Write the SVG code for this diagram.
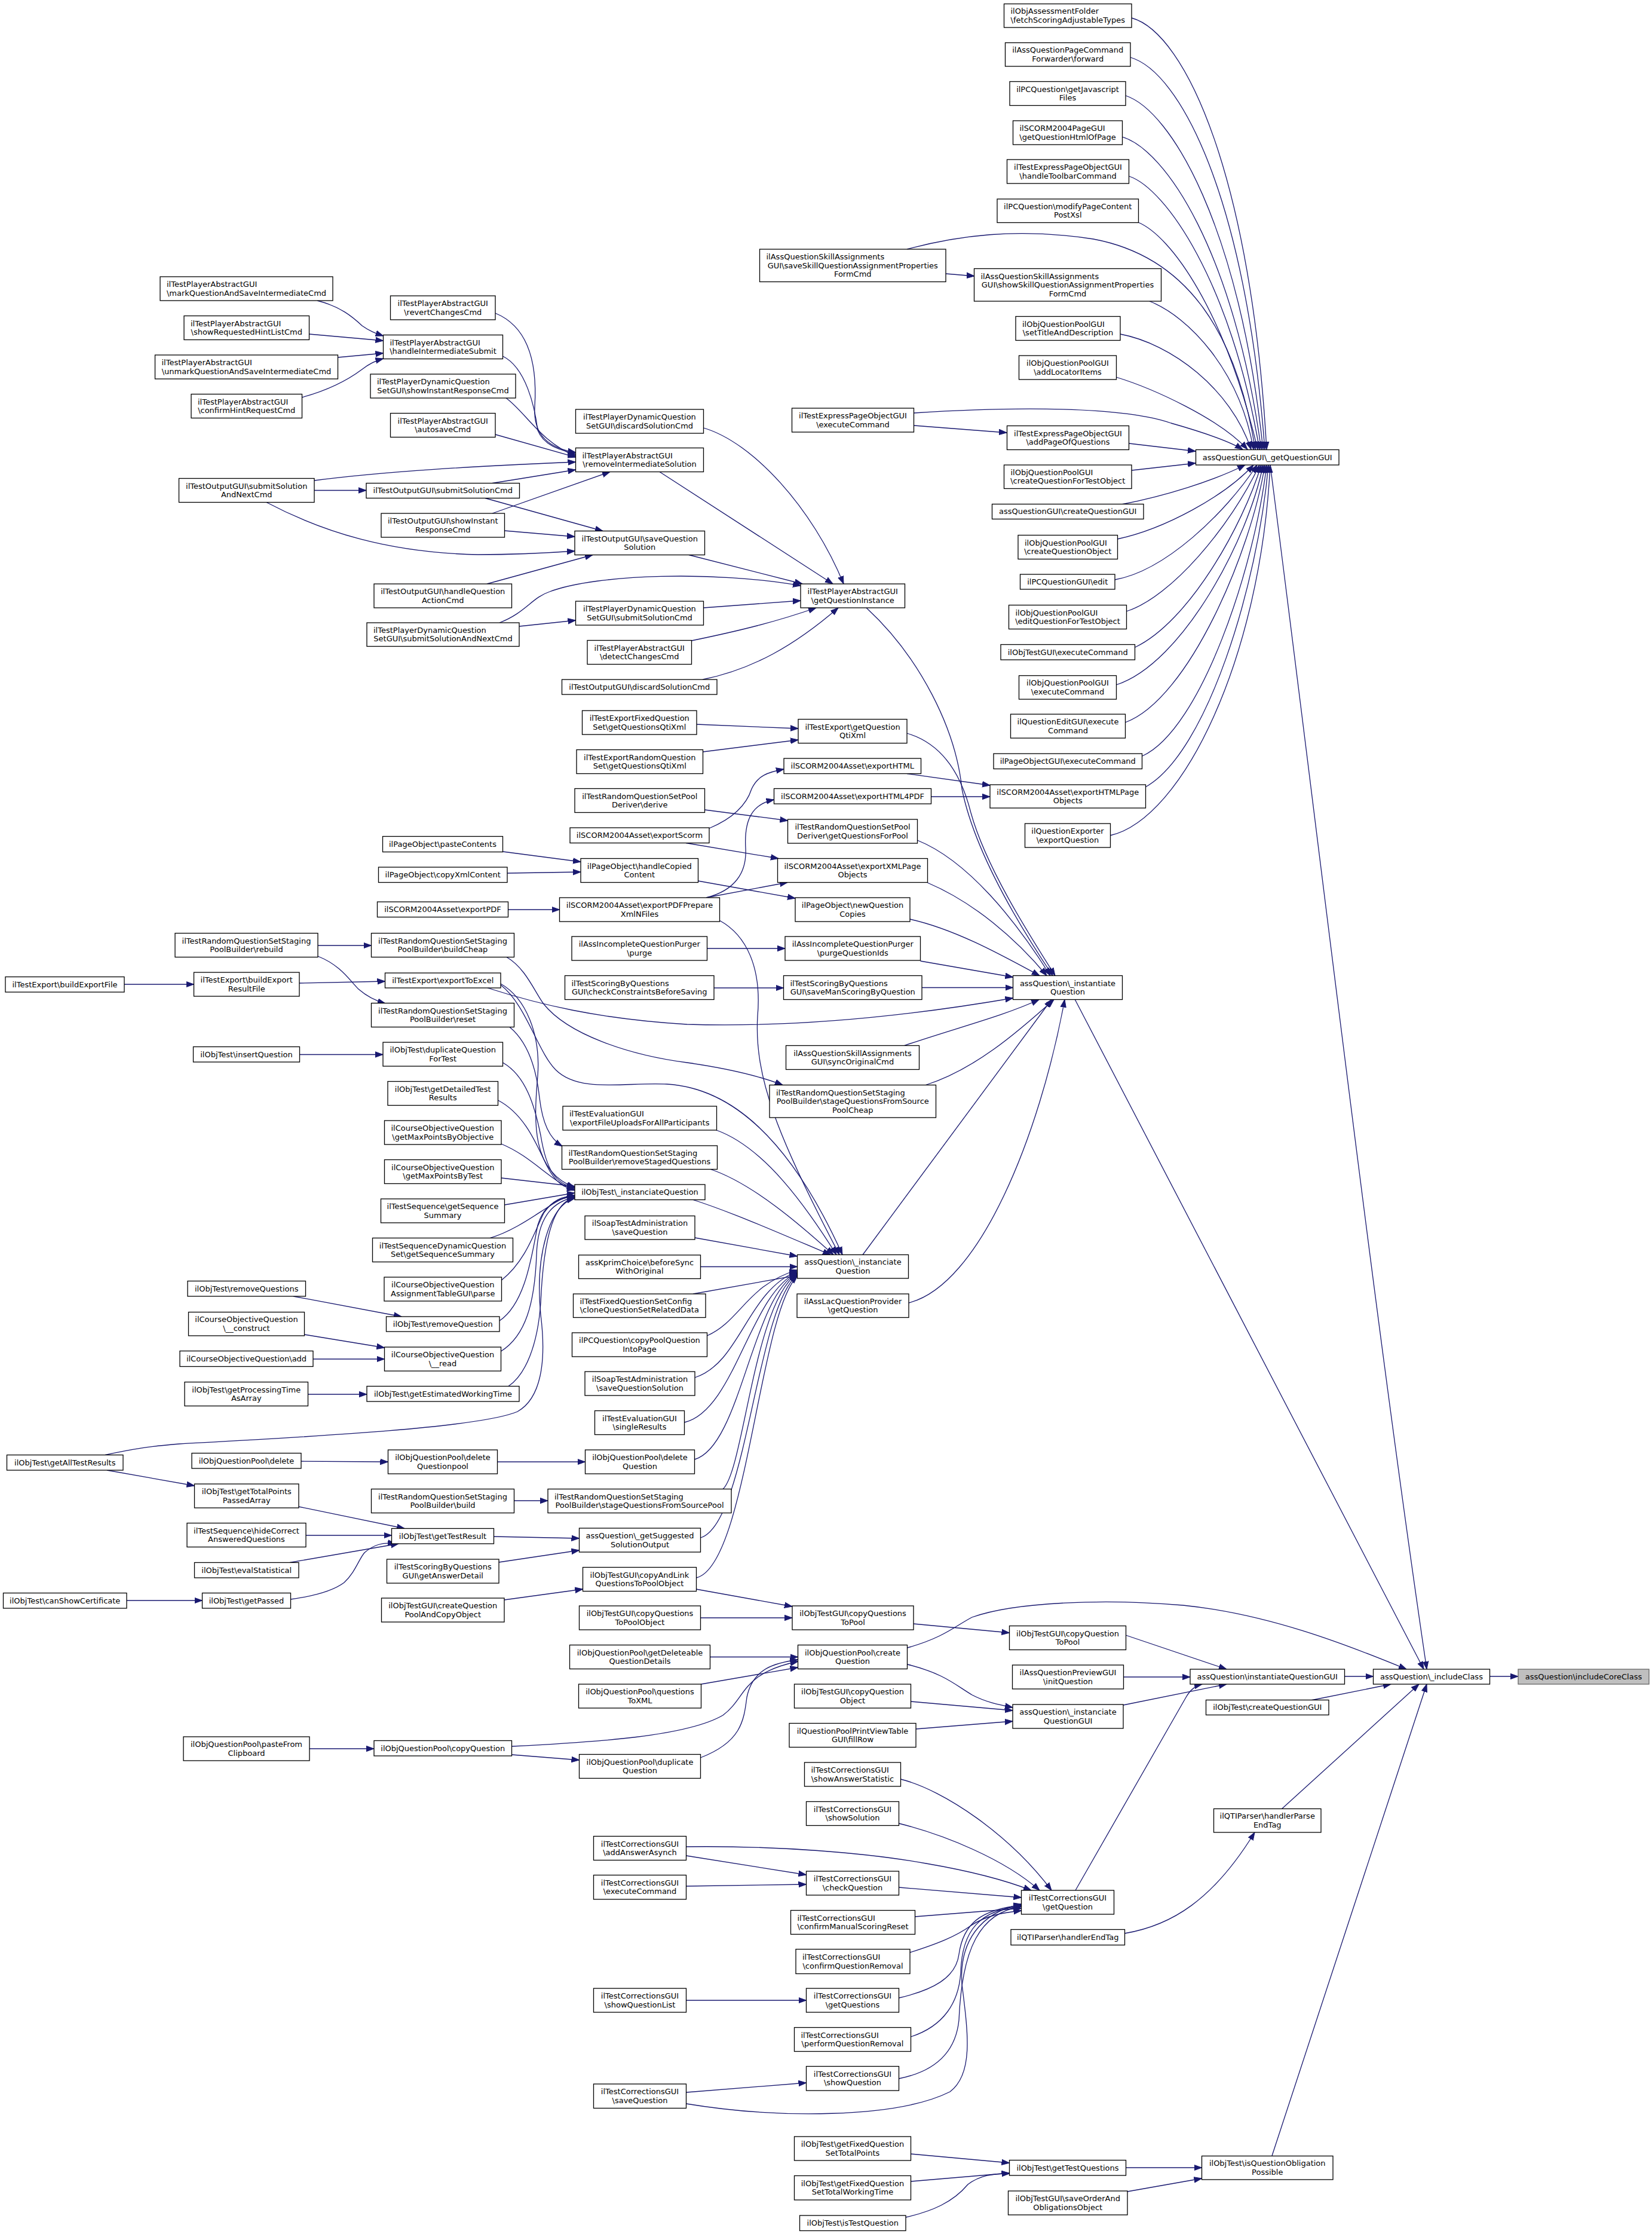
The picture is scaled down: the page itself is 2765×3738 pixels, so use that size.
<svg xmlns="http://www.w3.org/2000/svg" width="2765" height="3738" viewBox="0 0 2765 3738">
<defs>
<style>
.n rect{fill:#fff;stroke:#000;stroke-width:1.3}
.n text{font-family:"DejaVu Sans","Liberation Sans",sans-serif;font-size:13px;text-anchor:middle;fill:#000}
.n text.l{text-anchor:start}
#n123 rect{fill:#bfbfbf;stroke:#666}
.e path{fill:none;stroke:#191970;stroke-width:1.3;marker-end:url(#ah)}
</style>
<marker id="ah" markerUnits="userSpaceOnUse" markerWidth="15" markerHeight="11" refX="13" refY="5.5" orient="auto"><path d="M0,0.8 L13,5.5 L0,10.2 z" fill="#191970" stroke="#191970" stroke-width="1"/></marker>
</defs>
<rect x="0" y="0" width="2765" height="3738" fill="#fff"/>
<g id="edges" class="e">
<path d="M1894,30 C1985,55 2095,300 2120,752"/>
<path d="M1892,96 C1975,120 2085,330 2117,752"/>
<path d="M1884,160 C1960,185 2075,380 2114,752"/>
<path d="M1878,229 C1950,250 2065,420 2111,752"/>
<path d="M1890,295 C1950,315 2060,470 2108,752"/>
<path d="M1905,372 C1960,395 2050,520 2105,752"/>
<path d="M1518,417 C1600,395 1700,380 1830,400 C1990,430 2070,560 2101,752"/>
<path d="M1924,504 C1990,530 2075,620 2098,752"/>
<path d="M1875,559 C1960,575 2060,650 2094,752"/>
<path d="M1868,631 C1930,650 2040,700 2088,752"/>
<path d="M1530,691 C1700,680 1880,680 1960,708 C2020,725 2060,740 2080,752"/>
<path d="M1530,712 L1685,724"/>
<path d="M1890,742 L2001,755"/>
<path d="M1894,787 L2001,775"/>
<path d="M1877,844 C1950,830 2030,805 2084,778"/>
<path d="M1870,902 C1950,885 2050,830 2098,778"/>
<path d="M1866,970 C1950,955 2050,860 2104,778"/>
<path d="M1885,1023 C1960,1000 2060,880 2108,778"/>
<path d="M1900,1083 C1990,1040 2080,880 2111,778"/>
<path d="M1868,1146 C1980,1110 2090,900 2114,778"/>
<path d="M1883,1209 C1990,1170 2095,920 2117,778"/>
<path d="M1912,1265 C2010,1220 2100,950 2120,778"/>
<path d="M1917,1317 C2020,1260 2105,980 2123,778"/>
<path d="M1858,1398 C1980,1370 2110,1100 2126,778"/>
<path d="M1583,458 L1631,462"/>
<path d="M2126,778 C2200,1350 2300,2200 2388,2793"/>
<path d="M1799,1672 L2383,2793"/>
<path d="M1519,2757 C1580,2740 1600,2720 1627,2706 C1700,2680 1850,2675 1980,2686 C2120,2700 2250,2750 2354,2793"/>
<path d="M2250.5,2805 L2298.5,2805"/>
<path d="M2194,2845 L2328,2818"/>
<path d="M2145,3027 L2375,2818"/>
<path d="M2129,3607 L2388,2818"/>
<path d="M2493.5,2805 L2541,2805"/>
<path d="M1884,2736 L2053,2793"/>
<path d="M1880.5,2806 L1992,2806"/>
<path d="M1880,2853 L2053,2818"/>
<path d="M1800,3163 L1985,2840 Q1995,2822 2012,2818"/>
<path d="M1529,2717 L1689.5,2732"/>
<path d="M1165,2659 L1326,2688"/>
<path d="M1172.5,2707 L1326,2707"/>
<path d="M1519,2785 C1580,2800 1600,2820 1627,2836 C1650,2848 1670,2852 1695,2857"/>
<path d="M1524.5,2847 L1695,2862"/>
<path d="M1533,2893 L1695,2880"/>
<path d="M1188.5,2772.5 L1335.5,2772.5"/>
<path d="M1173.5,2818 L1335.5,2790"/>
<path d="M857,2922 C1000,2915 1150,2905 1210,2870 C1250,2840 1240,2800 1335.5,2780"/>
<path d="M1172.5,2941 C1240,2915 1245,2880 1250,2840 C1260,2790 1300,2782 1335.5,2777"/>
<path d="M856.5,2936 L969.5,2945"/>
<path d="M518,2926 L626,2926"/>
<path d="M1160,2007.5 C1230,2030 1320,2070 1390,2099.5"/>
<path d="M1199,1891 C1280,1920 1350,2020 1400,2099.5"/>
<path d="M1188,1956 C1260,1980 1340,2050 1395,2099.5"/>
<path d="M1204,1540 C1250,1565 1275,1620 1268,1700 C1262,1800 1300,1900 1405,2099.5"/>
<path d="M838,1648 C880,1680 900,1760 930,1790 C970,1830 1050,1810 1116,1814 C1220,1820 1320,1900 1410,2099.5"/>
<path d="M1163,2071 L1334.5,2102"/>
<path d="M1172.5,2119.5 L1334.5,2119.5"/>
<path d="M1160,2165 L1334.5,2134"/>
<path d="M1183.5,2235 C1240,2210 1250,2150 1334.5,2125"/>
<path d="M1163,2305 C1240,2280 1250,2160 1334.5,2127"/>
<path d="M1145.5,2380 C1230,2360 1255,2165 1334.5,2129"/>
<path d="M1162.5,2442 C1240,2420 1258,2170 1334.5,2130"/>
<path d="M1210,2491.5 C1245,2460 1262,2180 1334.5,2131"/>
<path d="M1172.5,2573 C1250,2550 1265,2190 1334.5,2133"/>
<path d="M1165.5,2640 C1250,2620 1270,2200 1334.5,2135"/>
<path d="M1450,1017 C1540,1100 1600,1220 1610,1320 C1630,1420 1700,1540 1762,1632.5"/>
<path d="M1518,1227 C1580,1245 1610,1300 1625,1360 C1650,1450 1720,1560 1766,1632.5"/>
<path d="M1535.5,1406 C1620,1440 1700,1540 1758,1632.5"/>
<path d="M1552.5,1477 C1630,1510 1700,1570 1752,1632.5"/>
<path d="M1523,1538 C1600,1555 1680,1600 1740,1632.5"/>
<path d="M1540.5,1608 L1695.5,1635"/>
<path d="M1543,1652.5 L1695.5,1652.5"/>
<path d="M816,1653 C900,1680 1000,1705 1150,1714 C1350,1720 1550,1695 1695.5,1670"/>
<path d="M1512,1750 C1600,1720 1680,1700 1739,1672.5"/>
<path d="M1548,1816 C1630,1790 1700,1730 1764,1672.5"/>
<path d="M1444,2099.5 L1760,1672.5"/>
<path d="M1521,2180 C1640,2150 1740,1900 1782,1672.5"/>
<path d="M1177.5,716 C1260,740 1360,850 1412,977"/>
<path d="M1104,789.5 L1394,977"/>
<path d="M1153,928.5 L1343,977"/>
<path d="M836,1042 C880,1025 890,1000 920,990 C1000,960 1200,955 1340,980"/>
<path d="M1177.5,1017 L1340,1005"/>
<path d="M1157.5,1072 C1240,1055 1300,1040 1366,1017"/>
<path d="M1176,1137 C1260,1120 1330,1080 1403,1017"/>
<path d="M829,524 C880,545 900,600 895,680 C892,730 920,750 963.5,757"/>
<path d="M841.5,596 C880,615 895,680 900,720 C910,745 935,752 963.5,760"/>
<path d="M847,666 C880,690 905,740 963.5,763"/>
<path d="M829,727 L963.5,765"/>
<path d="M526,804 C650,788 800,780 963.5,773"/>
<path d="M824,808.5 L963.5,786"/>
<path d="M824,859 L1021,789.5"/>
<path d="M812,833.5 L1009,888.5"/>
<path d="M844.5,888 L962,898"/>
<path d="M446,840.5 C540,890 650,925 800,928 C870,928 920,925 962,922"/>
<path d="M815,977 L992,928.5"/>
<path d="M531,503 C570,513 590,530 606,545 C620,555 630,558 641.5,562"/>
<path d="M517.5,559 L641.5,570"/>
<path d="M565.5,598 L641.5,591"/>
<path d="M505,665 C560,650 590,630 606,618 C620,607 630,603 641.5,600"/>
<path d="M526,820.5 L613,820.5"/>
<path d="M869,1048 L963.5,1038"/>
<path d="M1166,1212 L1336,1219"/>
<path d="M1176.5,1258 L1336,1238"/>
<path d="M1187,1386 C1230,1368 1250,1345 1258,1320 C1268,1298 1285,1292 1312,1287"/>
<path d="M1182,1502 C1230,1490 1250,1460 1248,1420 C1245,1370 1260,1345 1295.5,1338"/>
<path d="M1518,1294.5 L1657,1314"/>
<path d="M1558.5,1333 L1657,1333"/>
<path d="M1179.5,1355 L1318.5,1373"/>
<path d="M1148,1410.5 L1303,1436.5"/>
<path d="M1182,1502 L1318,1476.5"/>
<path d="M842,1425 L972,1442"/>
<path d="M849,1461 L972,1459"/>
<path d="M1168.5,1474 L1331,1503"/>
<path d="M851,1522 L936.5,1522"/>
<path d="M1183.5,1587 L1314,1587"/>
<path d="M1195,1653 L1311.5,1653"/>
<path d="M532,1582 L621.5,1582"/>
<path d="M532,1600 C570,1615 585,1640 600,1655 C615,1668 630,1675 645,1679"/>
<path d="M208,1647 L324.5,1647"/>
<path d="M501,1645 L644.5,1642"/>
<path d="M848,1601.5 C880,1620 895,1660 910,1680 C950,1730 1050,1765 1150,1778 C1220,1788 1270,1800 1310,1815.5"/>
<path d="M853,1718.5 C885,1745 898,1790 903,1837 C908,1880 920,1905 941,1918"/>
<path d="M838,1646 C880,1670 905,1730 900,1800 C893,1880 890,1960 962,1987"/>
<path d="M841.5,1778 C880,1800 895,1850 905,1900 C915,1960 930,1980 962,1988"/>
<path d="M833.5,1841 C880,1865 900,1920 915,1950 C930,1980 945,1988 962,1990"/>
<path d="M839,1914 C890,1935 920,1975 962,1992"/>
<path d="M839,1971 L962,1985"/>
<path d="M844.5,2016 L962,1996"/>
<path d="M820,2071.5 C860,2060 900,2030 920,2018 C935,2008 945,2003 962,2000"/>
<path d="M839.5,2142 C880,2110 895,2060 910,2030 C925,2008 940,2002 962,2001"/>
<path d="M836,2210 C880,2180 890,2100 900,2050 C910,2015 935,2004 962,2002"/>
<path d="M838.5,2261 C880,2235 895,2180 898,2100 C900,2030 930,2010 962,2003"/>
<path d="M851,2319.5 C880,2300 900,2250 905,2180 C910,2060 930,2010 962,2004"/>
<path d="M176,2434.5 C220,2425 250,2420 300,2416 C500,2405 800,2390 866,2362 C905,2340 915,2280 905,2200 C895,2100 920,2015 962,2005"/>
<path d="M501.5,1764.5 L641,1764.5"/>
<path d="M491,2169 L672,2203"/>
<path d="M509.5,2233 L643.5,2255"/>
<path d="M524,2274 L643.5,2274"/>
<path d="M515.5,2333 L614,2333"/>
<path d="M179,2460 L325.5,2486"/>
<path d="M504,2445 L649.5,2446"/>
<path d="M832.5,2446 L979.5,2446"/>
<path d="M860.5,2511 L917,2511"/>
<path d="M500,2521 L677,2557.5"/>
<path d="M512,2569 L655.5,2569"/>
<path d="M485,2614.5 L667,2583"/>
<path d="M486.5,2676 C530,2670 560,2660 576,2648 C595,2630 600,2610 610,2598 C625,2585 640,2580 662,2583"/>
<path d="M212,2678 L338.5,2678"/>
<path d="M826.5,2571 L969.5,2574"/>
<path d="M835,2614 L969.5,2594"/>
<path d="M844,2677 L975.5,2659"/>
<path d="M1507.5,2977 C1580,2995 1690,3070 1760,3163"/>
<path d="M1504.5,3051 C1580,3070 1680,3110 1740,3163"/>
<path d="M1148.5,3090 C1300,3088 1450,3100 1550,3118 C1620,3130 1680,3145 1726,3163"/>
<path d="M1148.5,3105 L1349.5,3137"/>
<path d="M1148.5,3156 L1349.5,3153"/>
<path d="M1504.5,3158 L1709.5,3175"/>
<path d="M1531.5,3207 L1709.5,3193"/>
<path d="M1523,3267 C1570,3252 1600,3240 1625,3222 C1650,3205 1680,3200 1709.5,3197"/>
<path d="M1504.5,3343 C1560,3330 1600,3310 1605,3270 C1612,3220 1640,3195 1709.5,3188"/>
<path d="M1524.5,3408 C1580,3390 1605,3350 1608,3300 C1610,3230 1640,3195 1709.5,3190"/>
<path d="M1504.5,3478 C1570,3465 1600,3430 1605,3380 C1610,3260 1640,3200 1709.5,3190"/>
<path d="M1148.5,3520 C1300,3545 1500,3545 1590,3500 C1630,3470 1620,3400 1610,3320 C1605,3250 1640,3200 1709.5,3186"/>
<path d="M1148.5,3501 L1349.5,3485"/>
<path d="M1148.5,3347 L1349.5,3347"/>
<path d="M1882.5,3235 C1960,3222 2030,3180 2100,3066"/>
<path d="M1524.5,3604 L1689.5,3619"/>
<path d="M1524.5,3650 L1689.5,3636"/>
<path d="M1516,3710 C1560,3700 1595,3685 1620,3655 C1640,3640 1660,3637 1689.5,3637"/>
<path d="M1884.5,3627 L2011.5,3627"/>
<path d="M1887,3667 L2011.5,3645"/>
</g>
<g id="n1" class="n"><rect x="1680.5" y="6.5" width="213.5" height="39.5"/><text class="l" x="1691.5" y="23.3">ilObjAssessmentFolder</text><text x="1787.25" y="37.9">\fetchScoringAdjustableTypes</text></g>
<g id="n2" class="n"><rect x="1682.5" y="71.5" width="209.5" height="39.5"/><text x="1787.25" y="88.3">ilAssQuestionPageCommand</text><text x="1787.25" y="102.9">Forwarder\forward</text></g>
<g id="n3" class="n"><rect x="1690" y="136.5" width="194" height="40"/><text x="1787" y="153.5">ilPCQuestion\getJavascript</text><text x="1787" y="168.1">Files</text></g>
<g id="n4" class="n"><rect x="1695.5" y="202" width="183" height="40"/><text class="l" x="1706.5" y="219">ilSCORM2004PageGUI</text><text x="1787" y="233.6">\getQuestionHtmlOfPage</text></g>
<g id="n5" class="n"><rect x="1685.5" y="267" width="204" height="40"/><text x="1787.5" y="284">ilTestExpressPageObjectGUI</text><text x="1787.5" y="298.6">\handleToolbarCommand</text></g>
<g id="n6" class="n"><rect x="1669" y="333" width="236.5" height="39.5"/><text x="1787.25" y="349.8">ilPCQuestion\modifyPageContent</text><text x="1787.25" y="364.4">PostXsl</text></g>
<g id="n7" class="n"><rect x="1271.5" y="417" width="311.5" height="54.5"/><text class="l" x="1282.5" y="433.9">ilAssQuestionSkillAssignments</text><text x="1427.25" y="448.6">GUI\saveSkillQuestionAssignmentProperties</text><text x="1427.25" y="463.2">FormCmd</text></g>
<g id="n8" class="n"><rect x="1630.5" y="449.5" width="313" height="54.5"/><text class="l" x="1641.5" y="466.5">ilAssQuestionSkillAssignments</text><text x="1787" y="481">GUI\showSkillQuestionAssignmentProperties</text><text x="1787" y="495.6">FormCmd</text></g>
<g id="n9" class="n"><rect x="1700" y="529.5" width="175" height="40"/><text class="l" x="1711" y="546.5">ilObjQuestionPoolGUI</text><text x="1787.5" y="561.1">\setTitleAndDescription</text></g>
<g id="n10" class="n"><rect x="1705.5" y="595" width="163" height="40"/><text x="1787" y="612">ilObjQuestionPoolGUI</text><text x="1787" y="626.6">\addLocatorItems</text></g>
<g id="n11" class="n"><rect x="1325.5" y="683" width="204" height="40"/><text x="1427.5" y="700">ilTestExpressPageObjectGUI</text><text x="1427.5" y="714.6">\executeCommand</text></g>
<g id="n12" class="n"><rect x="1685.5" y="712.5" width="204" height="40"/><text x="1787.5" y="729.5">ilTestExpressPageObjectGUI</text><text x="1787.5" y="744.1">\addPageOfQuestions</text></g>
<g id="n13" class="n"><rect x="2001.5" y="752.5" width="239.5" height="25.5"/><text x="2121.25" y="769.6">assQuestionGUI\_getQuestionGUI</text></g>
<g id="n14" class="n"><rect x="1680.5" y="778" width="213.5" height="39.5"/><text class="l" x="1691.5" y="794.8">ilObjQuestionPoolGUI</text><text x="1787.25" y="809.4">\createQuestionForTestObject</text></g>
<g id="n15" class="n"><rect x="1660.5" y="843.5" width="253.5" height="25"/><text x="1787.25" y="860.3">assQuestionGUI\createQuestionGUI</text></g>
<g id="n16" class="n"><rect x="1704" y="895.5" width="166.5" height="40"/><text class="l" x="1715" y="912.5">ilObjQuestionPoolGUI</text><text x="1787.25" y="927.1">\createQuestionObject</text></g>
<g id="n17" class="n"><rect x="1707.5" y="961" width="158.5" height="25"/><text x="1786.75" y="977.8">ilPCQuestionGUI\edit</text></g>
<g id="n18" class="n"><rect x="1688.5" y="1012.5" width="197" height="40"/><text class="l" x="1699.5" y="1029.5">ilObjQuestionPoolGUI</text><text x="1787" y="1044.1">\editQuestionForTestObject</text></g>
<g id="n19" class="n"><rect x="1675" y="1078.5" width="224.5" height="25.5"/><text x="1787.25" y="1095.6">ilObjTestGUI\executeCommand</text></g>
<g id="n20" class="n"><rect x="1705.5" y="1130.5" width="163" height="39.5"/><text x="1787" y="1147.3">ilObjQuestionPoolGUI</text><text x="1787" y="1161.9">\executeCommand</text></g>
<g id="n21" class="n"><rect x="1691.5" y="1195" width="192" height="40"/><text x="1787.5" y="1212">ilQuestionEditGUI\execute</text><text x="1787.5" y="1226.6">Command</text></g>
<g id="n22" class="n"><rect x="1663" y="1261" width="248.5" height="25.5"/><text x="1787.25" y="1278.1">ilPageObjectGUI\executeCommand</text></g>
<g id="n23" class="n"><rect x="1657" y="1313" width="260.5" height="39"/><text x="1787.25" y="1329.5">ilSCORM2004Asset\exportHTMLPage</text><text x="1787.25" y="1344.1">Objects</text></g>
<g id="n24" class="n"><rect x="1715.5" y="1378" width="143" height="40"/><text x="1787" y="1395">ilQuestionExporter</text><text x="1787" y="1409.6">\exportQuestion</text></g>
<g id="n25" class="n"><rect x="1695.5" y="1632.5" width="183" height="40"/><text x="1787" y="1649.5">assQuestion\_instantiate</text><text x="1787" y="1664.1">Question</text></g>
<g id="n26" class="n"><rect x="268" y="463" width="289" height="40"/><text class="l" x="279" y="480">ilTestPlayerAbstractGUI</text><text x="412.5" y="494.6">\markQuestionAndSaveIntermediateCmd</text></g>
<g id="n27" class="n"><rect x="308" y="528.5" width="209.5" height="40"/><text class="l" x="319" y="545.5">ilTestPlayerAbstractGUI</text><text x="412.75" y="560.1">\showRequestedHintListCmd</text></g>
<g id="n28" class="n"><rect x="259.5" y="594" width="306" height="40"/><text class="l" x="270.5" y="611">ilTestPlayerAbstractGUI</text><text x="412.5" y="625.6">\unmarkQuestionAndSaveIntermediateCmd</text></g>
<g id="n29" class="n"><rect x="320" y="659.5" width="185.5" height="40"/><text class="l" x="331" y="676.5">ilTestPlayerAbstractGUI</text><text x="412.75" y="691.1">\confirmHintRequestCmd</text></g>
<g id="n30" class="n"><rect x="653.5" y="495" width="175.5" height="40"/><text x="741.25" y="512">ilTestPlayerAbstractGUI</text><text x="741.25" y="526.6">\revertChangesCmd</text></g>
<g id="n31" class="n"><rect x="641.5" y="560.5" width="200" height="40"/><text class="l" x="652.5" y="577.5">ilTestPlayerAbstractGUI</text><text x="741.5" y="592.1">\handleIntermediateSubmit</text></g>
<g id="n32" class="n"><rect x="620" y="626" width="243" height="40"/><text class="l" x="631" y="643">ilTestPlayerDynamicQuestion</text><text x="741.5" y="657.6">SetGUI\showInstantResponseCmd</text></g>
<g id="n33" class="n"><rect x="653.5" y="691.5" width="175.5" height="40"/><text x="741.25" y="708.5">ilTestPlayerAbstractGUI</text><text x="741.25" y="723.1">\autosaveCmd</text></g>
<g id="n34" class="n"><rect x="299.5" y="800.5" width="226.5" height="40"/><text x="412.75" y="817.5">ilTestOutputGUI\submitSolution</text><text x="412.75" y="832.1">AndNextCmd</text></g>
<g id="n35" class="n"><rect x="613" y="808.5" width="256.5" height="25"/><text x="741.25" y="825.3">ilTestOutputGUI\submitSolutionCmd</text></g>
<g id="n36" class="n"><rect x="638" y="859" width="206.5" height="40"/><text x="741.25" y="876">ilTestOutputGUI\showInstant</text><text x="741.25" y="890.6">ResponseCmd</text></g>
<g id="n37" class="n"><rect x="626" y="977" width="230.5" height="40"/><text x="741.25" y="994">ilTestOutputGUI\handleQuestion</text><text x="741.25" y="1008.6">ActionCmd</text></g>
<g id="n38" class="n"><rect x="614" y="1042" width="255" height="39.5"/><text class="l" x="625" y="1058.8">ilTestPlayerDynamicQuestion</text><text x="741.5" y="1073.4">SetGUI\submitSolutionAndNextCmd</text></g>
<g id="n39" class="n"><rect x="963.5" y="685" width="214" height="40"/><text x="1070.5" y="702">ilTestPlayerDynamicQuestion</text><text x="1070.5" y="716.6">SetGUI\discardSolutionCmd</text></g>
<g id="n40" class="n"><rect x="963.5" y="749.5" width="214" height="40"/><text class="l" x="974.5" y="766.5">ilTestPlayerAbstractGUI</text><text x="1070.5" y="781.1">\removeIntermediateSolution</text></g>
<g id="n41" class="n"><rect x="962" y="888.5" width="217.5" height="40"/><text x="1070.75" y="905.5">ilTestOutputGUI\saveQuestion</text><text x="1070.75" y="920.1">Solution</text></g>
<g id="n42" class="n"><rect x="1340" y="977" width="174.5" height="40"/><text x="1427.25" y="994">ilTestPlayerAbstractGUI</text><text x="1427.25" y="1008.6">\getQuestionInstance</text></g>
<g id="n43" class="n"><rect x="963.5" y="1006" width="214" height="40"/><text x="1070.5" y="1023">ilTestPlayerDynamicQuestion</text><text x="1070.5" y="1037.6">SetGUI\submitSolutionCmd</text></g>
<g id="n44" class="n"><rect x="983" y="1071.5" width="174.5" height="40"/><text x="1070.25" y="1088.5">ilTestPlayerAbstractGUI</text><text x="1070.25" y="1103.1">\detectChangesCmd</text></g>
<g id="n45" class="n"><rect x="940.5" y="1137" width="259.5" height="25"/><text x="1070.25" y="1153.8">ilTestOutputGUI\discardSolutionCmd</text></g>
<g id="n46" class="n"><rect x="974.5" y="1189" width="191.5" height="40"/><text x="1070.25" y="1206">ilTestExportFixedQuestion</text><text x="1070.25" y="1220.6">Set\getQuestionsQtiXml</text></g>
<g id="n47" class="n"><rect x="1336" y="1203.5" width="182" height="40"/><text x="1427" y="1220.5">ilTestExport\getQuestion</text><text x="1427" y="1235.1">QtiXml</text></g>
<g id="n48" class="n"><rect x="965" y="1254.5" width="211.5" height="40"/><text x="1070.75" y="1271.5">ilTestExportRandomQuestion</text><text x="1070.75" y="1286.1">Set\getQuestionsQtiXml</text></g>
<g id="n49" class="n"><rect x="1312" y="1269" width="229.5" height="25.5"/><text x="1426.75" y="1286.1">ilSCORM2004Asset\exportHTML</text></g>
<g id="n50" class="n"><rect x="962" y="1319.5" width="217.5" height="40"/><text x="1070.75" y="1336.5">ilTestRandomQuestionSetPool</text><text x="1070.75" y="1351.1">Deriver\derive</text></g>
<g id="n51" class="n"><rect x="1295.5" y="1319.5" width="263" height="25.5"/><text x="1427" y="1336.6">ilSCORM2004Asset\exportHTML4PDF</text></g>
<g id="n52" class="n"><rect x="954" y="1385" width="233" height="25.5"/><text x="1070.5" y="1402.1">ilSCORM2004Asset\exportScorm</text></g>
<g id="n53" class="n"><rect x="1318.5" y="1371" width="217" height="40"/><text x="1427" y="1388">ilTestRandomQuestionSetPool</text><text x="1427" y="1402.6">Deriver\getQuestionsForPool</text></g>
<g id="n54" class="n"><rect x="640.5" y="1399.5" width="201" height="26"/><text x="741" y="1416.8">ilPageObject\pasteContents</text></g>
<g id="n55" class="n"><rect x="972" y="1436.5" width="196.5" height="40"/><text x="1070.25" y="1453.5">ilPageObject\handleCopied</text><text x="1070.25" y="1468.1">Content</text></g>
<g id="n56" class="n"><rect x="1301.5" y="1436.5" width="251" height="40"/><text x="1427" y="1453.5">ilSCORM2004Asset\exportXMLPage</text><text x="1427" y="1468.1">Objects</text></g>
<g id="n57" class="n"><rect x="633.5" y="1451" width="215.5" height="25.5"/><text x="741.25" y="1468.1">ilPageObject\copyXmlContent</text></g>
<g id="n58" class="n"><rect x="631.5" y="1509" width="219" height="25.5"/><text x="741" y="1526.1">ilSCORM2004Asset\exportPDF</text></g>
<g id="n59" class="n"><rect x="936.5" y="1502" width="268" height="40"/><text x="1070.5" y="1519">ilSCORM2004Asset\exportPDFPrepare</text><text x="1070.5" y="1533.6">XmlNFiles</text></g>
<g id="n60" class="n"><rect x="1331" y="1502" width="192" height="40"/><text x="1427" y="1519">ilPageObject\newQuestion</text><text x="1427" y="1533.6">Copies</text></g>
<g id="n61" class="n"><rect x="293" y="1561.5" width="239" height="40"/><text x="412.5" y="1578.5">ilTestRandomQuestionSetStaging</text><text x="412.5" y="1593.1">PoolBuilder\rebuild</text></g>
<g id="n62" class="n"><rect x="621.5" y="1561.5" width="239" height="40"/><text x="741" y="1578.5">ilTestRandomQuestionSetStaging</text><text x="741" y="1593.1">PoolBuilder\buildCheap</text></g>
<g id="n63" class="n"><rect x="957" y="1567" width="226.5" height="40"/><text x="1070.25" y="1584">ilAssIncompleteQuestionPurger</text><text x="1070.25" y="1598.6">\purge</text></g>
<g id="n64" class="n"><rect x="1314" y="1567" width="226.5" height="40"/><text x="1427.25" y="1584">ilAssIncompleteQuestionPurger</text><text x="1427.25" y="1598.6">\purgeQuestionIds</text></g>
<g id="n65" class="n"><rect x="9" y="1634.5" width="199" height="25.5"/><text x="108.5" y="1651.6">ilTestExport\buildExportFile</text></g>
<g id="n66" class="n"><rect x="324.5" y="1627" width="176.5" height="40"/><text x="412.75" y="1644">ilTestExport\buildExport</text><text x="412.75" y="1658.6">ResultFile</text></g>
<g id="n67" class="n"><rect x="644.5" y="1628" width="193.5" height="25"/><text x="741.25" y="1644.8">ilTestExport\exportToExcel</text></g>
<g id="n68" class="n"><rect x="945.5" y="1632.5" width="249.5" height="40"/><text class="l" x="956.5" y="1649.5">ilTestScoringByQuestions</text><text x="1070.25" y="1664.1">GUI\checkConstraintsBeforeSaving</text></g>
<g id="n69" class="n"><rect x="1311.5" y="1632.5" width="231.5" height="40"/><text class="l" x="1322.5" y="1649.5">ilTestScoringByQuestions</text><text x="1427.25" y="1664.1">GUI\saveManScoringByQuestion</text></g>
<g id="n70" class="n"><rect x="621.5" y="1678.5" width="239" height="40"/><text x="741" y="1695.5">ilTestRandomQuestionSetStaging</text><text x="741" y="1710.1">PoolBuilder\reset</text></g>
<g id="n71" class="n"><rect x="1315.5" y="1749.5" width="223" height="40"/><text x="1427" y="1766.5">ilAssQuestionSkillAssignments</text><text x="1427" y="1781.1">GUI\syncOriginalCmd</text></g>
<g id="n72" class="n"><rect x="323.5" y="1751.5" width="178" height="25.5"/><text x="412.5" y="1768.6">ilObjTest\insertQuestion</text></g>
<g id="n73" class="n"><rect x="641" y="1744" width="200.5" height="40"/><text x="741.25" y="1761">ilObjTest\duplicateQuestion</text><text x="741.25" y="1775.6">ForTest</text></g>
<g id="n74" class="n"><rect x="1288" y="1815.5" width="278.5" height="54.5"/><text class="l" x="1299" y="1832.5">ilTestRandomQuestionSetStaging</text><text x="1427.25" y="1847.1">PoolBuilder\stageQuestionsFromSource</text><text x="1427.25" y="1861.7">PoolCheap</text></g>
<g id="n75" class="n"><rect x="649" y="1809.5" width="184.5" height="40"/><text x="741.25" y="1826.5">ilObjTest\getDetailedTest</text><text x="741.25" y="1841.1">Results</text></g>
<g id="n76" class="n"><rect x="942" y="1851" width="257.5" height="40"/><text class="l" x="953" y="1868">ilTestEvaluationGUI</text><text x="1070.75" y="1882.6">\exportFileUploadsForAllParticipants</text></g>
<g id="n77" class="n"><rect x="643.5" y="1875" width="195.5" height="40"/><text class="l" x="654.5" y="1892">ilCourseObjectiveQuestion</text><text x="741.25" y="1906.6">\getMaxPointsByObjective</text></g>
<g id="n78" class="n"><rect x="940.5" y="1917" width="260" height="39.5"/><text class="l" x="951.5" y="1933.8">ilTestRandomQuestionSetStaging</text><text x="1070.5" y="1948.4">PoolBuilder\removeStagedQuestions</text></g>
<g id="n79" class="n"><rect x="643.5" y="1940.5" width="195.5" height="40"/><text x="741.25" y="1957.5">ilCourseObjectiveQuestion</text><text x="741.25" y="1972.1">\getMaxPointsByTest</text></g>
<g id="n80" class="n"><rect x="962" y="1982" width="218" height="25.5"/><text x="1071" y="1999.1">ilObjTest\_instanciateQuestion</text></g>
<g id="n81" class="n"><rect x="637.5" y="2006" width="207" height="40"/><text x="741" y="2023">ilTestSequence\getSequence</text><text x="741" y="2037.6">Summary</text></g>
<g id="n82" class="n"><rect x="979" y="2034.5" width="184" height="39.5"/><text x="1071" y="2051.3">ilSoapTestAdministration</text><text x="1071" y="2065.9">\saveQuestion</text></g>
<g id="n83" class="n"><rect x="623.5" y="2071.5" width="235" height="40"/><text x="741" y="2088.5">ilTestSequenceDynamicQuestion</text><text x="741" y="2103.1">Set\getSequenceSummary</text></g>
<g id="n84" class="n"><rect x="1334.5" y="2099.5" width="186" height="39.5"/><text x="1427.5" y="2116.3">assQuestion\_instanciate</text><text x="1427.5" y="2130.9">Question</text></g>
<g id="n85" class="n"><rect x="968.5" y="2100" width="204" height="39.5"/><text x="1070.5" y="2116.8">assKprimChoice\beforeSync</text><text x="1070.5" y="2131.4">WithOriginal</text></g>
<g id="n86" class="n"><rect x="643" y="2137" width="196.5" height="40"/><text x="741.25" y="2154">ilCourseObjectiveQuestion</text><text x="741.25" y="2168.6">AssignmentTableGUI\parse</text></g>
<g id="n87" class="n"><rect x="314" y="2143.5" width="197.5" height="25.5"/><text x="412.75" y="2160.6">ilObjTest\removeQuestions</text></g>
<g id="n88" class="n"><rect x="1334" y="2165" width="187" height="39.5"/><text x="1427.5" y="2181.8">ilAssLacQuestionProvider</text><text x="1427.5" y="2196.4">\getQuestion</text></g>
<g id="n89" class="n"><rect x="959.5" y="2165" width="221.5" height="39.5"/><text class="l" x="970.5" y="2181.8">ilTestFixedQuestionSetConfig</text><text x="1070.25" y="2196.4">\cloneQuestionSetRelatedData</text></g>
<g id="n90" class="n"><rect x="315.5" y="2195.5" width="194" height="39.5"/><text x="412.5" y="2212.3">ilCourseObjectiveQuestion</text><text x="412.5" y="2226.9">\__construct</text></g>
<g id="n91" class="n"><rect x="646.5" y="2203" width="189.5" height="25"/><text x="741.25" y="2219.8">ilObjTest\removeQuestion</text></g>
<g id="n92" class="n"><rect x="957.5" y="2230" width="226" height="40"/><text x="1070.5" y="2247">ilPCQuestion\copyPoolQuestion</text><text x="1070.5" y="2261.6">IntoPage</text></g>
<g id="n93" class="n"><rect x="301" y="2260.5" width="223" height="26"/><text x="412.5" y="2277.8">ilCourseObjectiveQuestion\add</text></g>
<g id="n94" class="n"><rect x="643.5" y="2254" width="195" height="40"/><text x="741" y="2271">ilCourseObjectiveQuestion</text><text x="741" y="2285.6">\__read</text></g>
<g id="n95" class="n"><rect x="979" y="2295" width="184" height="40"/><text x="1071" y="2312">ilSoapTestAdministration</text><text x="1071" y="2326.6">\saveQuestionSolution</text></g>
<g id="n96" class="n"><rect x="309" y="2312.5" width="206.5" height="40"/><text x="412.25" y="2329.5">ilObjTest\getProcessingTime</text><text x="412.25" y="2344.1">AsArray</text></g>
<g id="n97" class="n"><rect x="614" y="2319.5" width="255" height="25.5"/><text x="741.5" y="2336.6">ilObjTest\getEstimatedWorkingTime</text></g>
<g id="n98" class="n"><rect x="995.5" y="2360.5" width="150" height="40"/><text x="1070.5" y="2377.5">ilTestEvaluationGUI</text><text x="1070.5" y="2392.1">\singleResults</text></g>
<g id="n99" class="n"><rect x="11.5" y="2434.5" width="194.5" height="25.5"/><text x="108.75" y="2451.6">ilObjTest\getAllTestResults</text></g>
<g id="n100" class="n"><rect x="321" y="2431.5" width="183" height="25.5"/><text x="412.5" y="2448.6">ilObjQuestionPool\delete</text></g>
<g id="n101" class="n"><rect x="649.5" y="2426" width="183" height="40"/><text x="741" y="2443">ilObjQuestionPool\delete</text><text x="741" y="2457.6">Questionpool</text></g>
<g id="n102" class="n"><rect x="979.5" y="2426" width="183" height="40"/><text x="1071" y="2443">ilObjQuestionPool\delete</text><text x="1071" y="2457.6">Question</text></g>
<g id="n103" class="n"><rect x="325.5" y="2483" width="174.5" height="40"/><text x="412.75" y="2500">ilObjTest\getTotalPoints</text><text x="412.75" y="2514.6">PassedArray</text></g>
<g id="n104" class="n"><rect x="621.5" y="2491.5" width="239" height="40"/><text x="741" y="2508.5">ilTestRandomQuestionSetStaging</text><text x="741" y="2523.1">PoolBuilder\build</text></g>
<g id="n105" class="n"><rect x="917" y="2491.5" width="307" height="40"/><text class="l" x="928" y="2508.5">ilTestRandomQuestionSetStaging</text><text x="1070.5" y="2523.1">PoolBuilder\stageQuestionsFromSourcePool</text></g>
<g id="n106" class="n"><rect x="313" y="2548.5" width="199" height="40"/><text x="412.5" y="2565.5">ilTestSequence\hideCorrect</text><text x="412.5" y="2580.1">AnsweredQuestions</text></g>
<g id="n107" class="n"><rect x="655.5" y="2557.5" width="171" height="25.5"/><text x="741" y="2574.6">ilObjTest\getTestResult</text></g>
<g id="n108" class="n"><rect x="969.5" y="2557" width="203" height="40"/><text x="1071" y="2574">assQuestion\_getSuggested</text><text x="1071" y="2588.6">SolutionOutput</text></g>
<g id="n109" class="n"><rect x="325.5" y="2614.5" width="174.5" height="25.5"/><text x="412.75" y="2631.6">ilObjTest\evalStatistical</text></g>
<g id="n110" class="n"><rect x="647.5" y="2609" width="187.5" height="40"/><text x="741.25" y="2626">ilTestScoringByQuestions</text><text x="741.25" y="2640.6">GUI\getAnswerDetail</text></g>
<g id="n111" class="n"><rect x="975.5" y="2622.5" width="190" height="40"/><text x="1070.5" y="2639.5">ilObjTestGUI\copyAndLink</text><text x="1070.5" y="2654.1">QuestionsToPoolObject</text></g>
<g id="n112" class="n"><rect x="5.5" y="2665.5" width="206.5" height="25.5"/><text x="108.75" y="2682.6">ilObjTest\canShowCertificate</text></g>
<g id="n113" class="n"><rect x="338.5" y="2665.5" width="148" height="25.5"/><text x="412.5" y="2682.6">ilObjTest\getPassed</text></g>
<g id="n114" class="n"><rect x="638.5" y="2674" width="205.5" height="40"/><text x="741.25" y="2691">ilObjTestGUI\createQuestion</text><text x="741.25" y="2705.6">PoolAndCopyObject</text></g>
<g id="n115" class="n"><rect x="969.5" y="2687" width="203" height="40"/><text x="1071" y="2704">ilObjTestGUI\copyQuestions</text><text x="1071" y="2718.6">ToPoolObject</text></g>
<g id="n116" class="n"><rect x="1326" y="2687" width="203" height="40"/><text x="1427.5" y="2704">ilObjTestGUI\copyQuestions</text><text x="1427.5" y="2718.6">ToPool</text></g>
<g id="n117" class="n"><rect x="1689.5" y="2720.5" width="195" height="40"/><text x="1787" y="2737.5">ilObjTestGUI\copyQuestion</text><text x="1787" y="2752.1">ToPool</text></g>
<g id="n118" class="n"><rect x="953.5" y="2752.5" width="235" height="40"/><text x="1071" y="2769.5">ilObjQuestionPool\getDeleteable</text><text x="1071" y="2784.1">QuestionDetails</text></g>
<g id="n119" class="n"><rect x="1335.5" y="2752.5" width="183" height="40"/><text x="1427" y="2769.5">ilObjQuestionPool\create</text><text x="1427" y="2784.1">Question</text></g>
<g id="n120" class="n"><rect x="1694.5" y="2786" width="186" height="40"/><text x="1787.5" y="2803">ilAssQuestionPreviewGUI</text><text x="1787.5" y="2817.6">\initQuestion</text></g>
<g id="n121" class="n"><rect x="1992" y="2793" width="258.5" height="25"/><text x="2121.25" y="2809.8">assQuestion\instantiateQuestionGUI</text></g>
<g id="n122" class="n"><rect x="2298.5" y="2793" width="195" height="25"/><text x="2396" y="2809.8">assQuestion\_includeClass</text></g>
<g id="n123" class="n"><rect x="2541" y="2793" width="219" height="25"/><text x="2650.5" y="2809.8">assQuestion\includeCoreClass</text></g>
<g id="n124" class="n"><rect x="968.5" y="2818" width="205" height="40"/><text x="1071" y="2835">ilObjQuestionPool\questions</text><text x="1071" y="2849.6">ToXML</text></g>
<g id="n125" class="n"><rect x="1329.5" y="2818" width="195" height="40"/><text x="1427" y="2835">ilObjTestGUI\copyQuestion</text><text x="1427" y="2849.6">Object</text></g>
<g id="n126" class="n"><rect x="2018.5" y="2844.5" width="205.5" height="25"/><text x="2121.25" y="2861.3">ilObjTest\createQuestionGUI</text></g>
<g id="n127" class="n"><rect x="1695" y="2852" width="185" height="40"/><text x="1787.5" y="2869">assQuestion\_instanciate</text><text x="1787.5" y="2883.6">QuestionGUI</text></g>
<g id="n128" class="n"><rect x="1321" y="2883.5" width="212" height="40"/><text x="1427" y="2900.5">ilQuestionPoolPrintViewTable</text><text x="1427" y="2915.1">GUI\fillRow</text></g>
<g id="n129" class="n"><rect x="307" y="2906" width="211" height="40"/><text x="412.5" y="2923">ilObjQuestionPool\pasteFrom</text><text x="412.5" y="2937.6">Clipboard</text></g>
<g id="n130" class="n"><rect x="626" y="2912.5" width="230.5" height="25.5"/><text x="741.25" y="2929.6">ilObjQuestionPool\copyQuestion</text></g>
<g id="n131" class="n"><rect x="969.5" y="2935.5" width="203" height="40"/><text x="1071" y="2952.5">ilObjQuestionPool\duplicate</text><text x="1071" y="2967.1">Question</text></g>
<g id="n132" class="n"><rect x="1346.5" y="2949" width="161" height="40"/><text class="l" x="1357.5" y="2966">ilTestCorrectionsGUI</text><text x="1427" y="2980.6">\showAnswerStatistic</text></g>
<g id="n133" class="n"><rect x="1349.5" y="3014.5" width="155" height="40"/><text x="1427" y="3031.5">ilTestCorrectionsGUI</text><text x="1427" y="3046.1">\showSolution</text></g>
<g id="n134" class="n"><rect x="2031.5" y="3026.5" width="179.5" height="39.5"/><text x="2121.25" y="3043.3">ilQTIParser\handlerParse</text><text x="2121.25" y="3057.9">EndTag</text></g>
<g id="n135" class="n"><rect x="993.5" y="3072.5" width="155" height="40"/><text x="1071" y="3089.5">ilTestCorrectionsGUI</text><text x="1071" y="3104.1">\addAnswerAsynch</text></g>
<g id="n136" class="n"><rect x="993.5" y="3137.5" width="155" height="40.5"/><text x="1071" y="3154.8">ilTestCorrectionsGUI</text><text x="1071" y="3169.4">\executeCommand</text></g>
<g id="n137" class="n"><rect x="1349.5" y="3131" width="155" height="40"/><text x="1427" y="3148">ilTestCorrectionsGUI</text><text x="1427" y="3162.6">\checkQuestion</text></g>
<g id="n138" class="n"><rect x="1709.5" y="3163" width="155" height="40"/><text x="1787" y="3180">ilTestCorrectionsGUI</text><text x="1787" y="3194.6">\getQuestion</text></g>
<g id="n139" class="n"><rect x="1323.5" y="3196.5" width="208" height="40"/><text class="l" x="1334.5" y="3213.5">ilTestCorrectionsGUI</text><text x="1427.5" y="3228.1">\confirmManualScoringReset</text></g>
<g id="n140" class="n"><rect x="1692" y="3228.5" width="190.5" height="26"/><text x="1787.25" y="3245.8">ilQTIParser\handlerEndTag</text></g>
<g id="n141" class="n"><rect x="1332" y="3261.5" width="191" height="41"/><text class="l" x="1343" y="3279">ilTestCorrectionsGUI</text><text x="1427.5" y="3293.6">\confirmQuestionRemoval</text></g>
<g id="n142" class="n"><rect x="993.5" y="3327" width="155" height="40"/><text x="1071" y="3344">ilTestCorrectionsGUI</text><text x="1071" y="3358.6">\showQuestionList</text></g>
<g id="n143" class="n"><rect x="1349.5" y="3327" width="155" height="40"/><text x="1427" y="3344">ilTestCorrectionsGUI</text><text x="1427" y="3358.6">\getQuestions</text></g>
<g id="n144" class="n"><rect x="1329.5" y="3392.5" width="195" height="40"/><text class="l" x="1340.5" y="3409.5">ilTestCorrectionsGUI</text><text x="1427" y="3424.1">\performQuestionRemoval</text></g>
<g id="n145" class="n"><rect x="1349.5" y="3457.5" width="155" height="40.5"/><text x="1427" y="3474.8">ilTestCorrectionsGUI</text><text x="1427" y="3489.4">\showQuestion</text></g>
<g id="n146" class="n"><rect x="993.5" y="3487" width="155" height="40.5"/><text x="1071" y="3504.3">ilTestCorrectionsGUI</text><text x="1071" y="3518.9">\saveQuestion</text></g>
<g id="n147" class="n"><rect x="1329.5" y="3575" width="195" height="40"/><text x="1427" y="3592">ilObjTest\getFixedQuestion</text><text x="1427" y="3606.6">SetTotalPoints</text></g>
<g id="n148" class="n"><rect x="2011.5" y="3607.5" width="219.5" height="39.5"/><text x="2121.25" y="3624.3">ilObjTest\isQuestionObligation</text><text x="2121.25" y="3638.9">Possible</text></g>
<g id="n149" class="n"><rect x="1689.5" y="3614.5" width="195" height="25.5"/><text x="1787" y="3631.6">ilObjTest\getTestQuestions</text></g>
<g id="n150" class="n"><rect x="1329.5" y="3640.5" width="195" height="40.5"/><text x="1427" y="3657.8">ilObjTest\getFixedQuestion</text><text x="1427" y="3672.4">SetTotalWorkingTime</text></g>
<g id="n151" class="n"><rect x="1687.5" y="3666" width="199.5" height="40"/><text x="1787.25" y="3683">ilObjTestGUI\saveOrderAnd</text><text x="1787.25" y="3697.6">ObligationsObject</text></g>
<g id="n152" class="n"><rect x="1338.5" y="3707" width="177.5" height="25.5"/><text x="1427.25" y="3724.1">ilObjTest\isTestQuestion</text></g>
</svg>
